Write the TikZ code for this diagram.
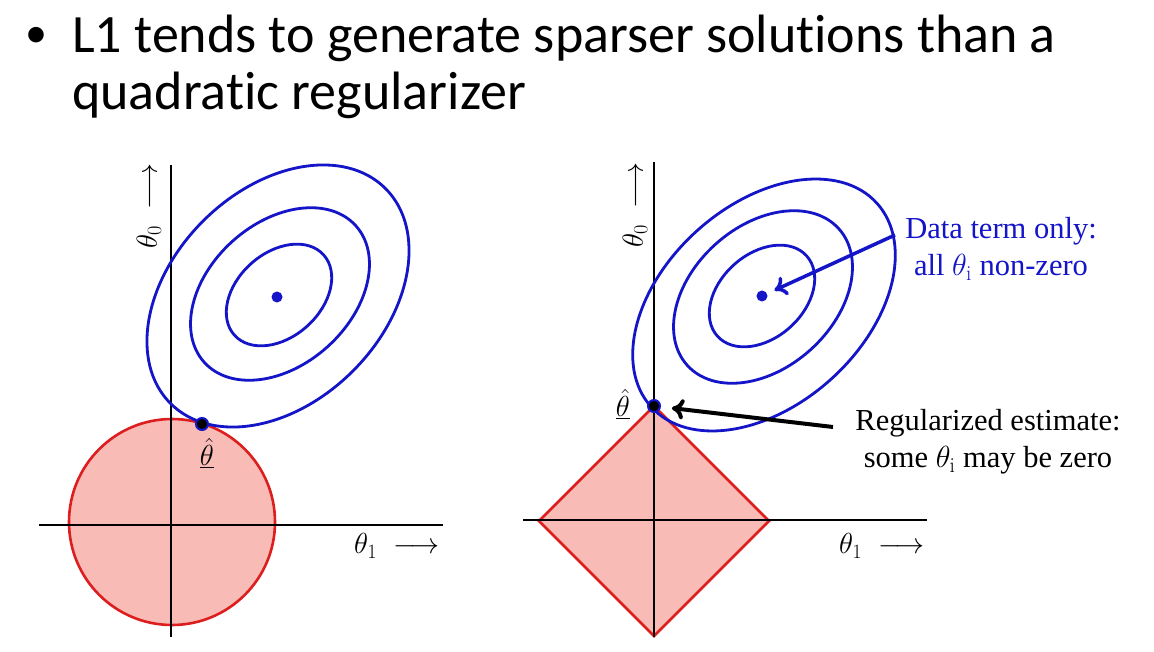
\documentclass[tikz,border=0pt]{standalone}
\usepackage{fix-cm}
\usepackage{fontspec}
\usepackage{tikz}
\usetikzlibrary{arrows.meta}
\usetikzlibrary{positioning}
\newfontfamily\titlefont[Ligatures=NoCommon]{Carlito}
\newfontfamily\notefont{Liberation Serif}
\definecolor{contourblue}{RGB}{20,20,200}
\definecolor{boundred}{RGB}{220,30,30}
\definecolor{boundfill}{RGB}{249,187,182}

\begin{document}
\begin{tikzpicture}[x=1pt, y=-1pt,
  axis/.style={line width=2.2pt},
  contour/.style={draw=contourblue, line width=2.8pt},
  region/.style={draw=boundred, fill=boundfill, line width=2.6pt},
  headline/.style={anchor=base west, inner sep=0pt, font=\titlefont\fontsize{54}{47}\selectfont},
  axlabel/.style={inner sep=0pt, font=\fontsize{29}{35}\selectfont},
  note/.style={inner sep=0pt, align=center, font=\notefont\fontsize{30.5}{37}\selectfont},
  centre/.style={circle, fill=contourblue, inner sep=0pt, minimum size=11pt},
  estimate/.style={circle, draw=contourblue, fill=black, line width=2pt, inner sep=0pt, minimum size=12pt},
  pointer/.style={line width=4pt, -{Computer Modern Rightarrow[length=12pt,width=20pt]}}]

  \useasboundingbox [fill=white] (0,0) rectangle (1154,652);

  \node (ibullet) [headline, font=\titlefont\fontsize{44}{47}\selectfont] at (25,48) {•};
  \node (ititle) [headline] at (72,53) {L1 tends to generate sparser solutions than a};
  \node (ititle2) [headline] at (72,110) {quadratic regularizer};

  \draw [region] (172,522) circle [radius=103];
  \draw [axis] (39,525) -- (443,525);
  \draw [axis] (171,165) -- (171,637);
  \draw [contour, rotate around={45:(278,296)}] (278,296) ellipse [x radius=152, y radius=106];
  \draw [contour, rotate around={42:(280,294)}] (280,294) ellipse [x radius=102, y radius=71];
  \draw [contour, rotate around={42:(279,295)}] (279,295) ellipse [x radius=60, y radius=42];
  \node (lcentre) [centre] at (277,297) {};
  \node (lhat) [estimate] at (202,424) {};
  \node (lhatlab) [axlabel, below=7pt of lhat, xshift=5pt] {$\underline{\hat{\theta}}$};
  \node (lx) [axlabel] at (397,546) {$\theta_1\;\longrightarrow$};
  \node (ly) [axlabel, rotate=90] at (149,206) {$\theta_0\;\longrightarrow$};

  \draw [region] (539,521) -- (654,406) -- (769,521) -- (654,636) -- cycle;
  \draw [axis] (523,520) -- (927,520);
  \draw [axis] (654,162) -- (654,637);
  \draw [contour, rotate around={42:(764,305)}] (764,305) ellipse [x radius=152, y radius=100];
  \draw [contour, rotate around={42:(763,297)}] (763,297) ellipse [x radius=102, y radius=71];
  \draw [contour, rotate around={42:(762,296)}] (762,296) ellipse [x radius=60, y radius=42];
  \node (rcentre) [centre] at (762,296) {};
  \node (rhat) [estimate] at (654,406) {};
  \node (rhatlab) [axlabel, left=17pt of rhat, yshift=2pt] {$\underline{\hat{\theta}}$};
  \node (rx) [axlabel] at (882,546) {$\theta_1\;\longrightarrow$};
  \node (ry) [axlabel, rotate=90] at (635,205) {$\theta_0\;\longrightarrow$};

  \node (datanote) [note, text=contourblue] at (1001,249) {Data term only:\\ all $\theta_{\mathrm{i}}$ non-zero};
  \node (regnote) [note] at (988,442) {Regularized estimate:\\ some $\theta_{\mathrm{i}}$ may be zero};
  \coordinate (datatail) at (895,235);
  \coordinate (regtail) at (833,427);

  \draw [pointer, contourblue, line width=3.5pt, shorten >=8pt] (datatail) -- (rcentre);
  \draw [pointer, shorten >=11pt] (regtail) -- (rhat);
\end{tikzpicture}
\end{document}
